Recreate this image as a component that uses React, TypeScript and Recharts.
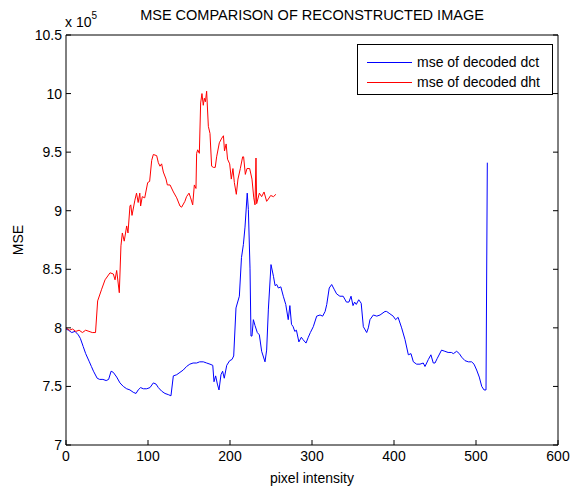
import React from 'react';
import { LineChart, Line, XAxis, YAxis, Label } from 'recharts';

const FONT = '"Liberation Sans", Arial, Helvetica, sans-serif';

const xTicks = [0, 100, 200, 300, 400, 500, 600];
const yTicks = [7, 7.5, 8, 8.5, 9, 9.5, 10, 10.5];

// mse of decoded dct (values in units of 10^5)
const dctPixel = [
  0, 3, 7, 11, 15, 17.5, 21, 24, 28.5, 31, 33.5, 38, 41, 45, 49, 52, 55, 57.7, 61.8, 65.8,
  69.9, 74, 78, 82, 85.4, 88, 91, 94.3, 98.4, 102.4, 106.5, 109.8, 112.6, 116.6, 120.7, 124.8, 128, 130.9, 135, 139,
  143, 147, 151, 155, 159.3, 163, 167.5, 171.5, 175.6, 179, 180.5, 182.5, 184.6, 186.6, 189, 191, 193, 196, 199.6, 202.4,
  204.5, 207.3, 211.4, 214, 216.3, 218.3, 221, 222.4, 224.4, 225.6, 226.8, 228.5, 230.5, 233.3, 235.8, 238.6, 242.7, 244.7, 246.8, 250,
  253, 255, 257, 259, 262, 265, 268, 271, 273, 275, 277, 279, 281, 284, 287, 289, 292.7, 295.5, 298, 301.6,
  305.7, 309.8, 313, 316, 318, 321, 324, 327, 330, 334, 338, 342, 345, 347.6, 350, 352, 354, 357, 360, 362.6,
  366.7, 368.7, 370.7, 374.8, 379, 383, 389, 391, 395, 399, 402, 405, 409.3, 413.4, 417.5, 420.7, 423.6, 427.6, 431.7, 435.7,
  437.8, 441.9, 445, 447.9, 450, 452.8, 458, 462, 466, 470, 472.4, 476.4, 479.7, 482.5, 486.6, 490.7, 494.7, 497.6, 500.8, 504,
  507, 509.8, 512.2, 513.8,
];
const dctMse = [
  7.99, 7.98, 7.96, 7.97, 7.94, 7.91, 7.84, 7.78, 7.71, 7.67, 7.63, 7.57, 7.56, 7.56, 7.55, 7.56, 7.63, 7.62, 7.58, 7.53,
  7.5, 7.48, 7.47, 7.45, 7.44, 7.47, 7.49, 7.48, 7.48, 7.49, 7.53, 7.52, 7.49, 7.46, 7.44, 7.43, 7.42, 7.59, 7.6, 7.62,
  7.64, 7.67, 7.69, 7.7, 7.7, 7.71, 7.71, 7.7, 7.69, 7.68, 7.54, 7.59, 7.52, 7.47, 7.6, 7.63, 7.57, 7.68, 7.72, 7.73,
  7.76, 8.17, 8.27, 8.6, 8.71, 8.86, 9.15, 9.01, 8.51, 7.93, 7.93, 8.07, 8.02, 7.96, 7.94, 7.8, 7.71, 7.81, 8.16, 8.54,
  8.44, 8.36, 8.37, 8.34, 8.35, 8.27, 8.2, 8.07, 8.19, 8.03, 8.01, 7.97, 7.98, 7.88, 7.92, 7.9, 7.87, 7.92, 7.96, 8.01,
  8.1, 8.11, 8.1, 8.14, 8.2, 8.34, 8.37, 8.33, 8.29, 8.27, 8.27, 8.22, 8.22, 8.27, 8.19, 8.22, 8.2, 8.24, 8.21, 8.01,
  7.96, 8.0, 8.07, 8.11, 8.1, 8.11, 8.14, 8.14, 8.12, 8.1, 8.07, 8.09, 8.0, 7.9, 7.77, 7.78, 7.71, 7.69, 7.69, 7.7,
  7.67, 7.73, 7.77, 7.7, 7.7, 7.74, 7.81, 7.8, 7.79, 7.79, 7.78, 7.8, 7.78, 7.75, 7.72, 7.71, 7.71, 7.69, 7.64, 7.58,
  7.5, 7.47, 7.47, 9.41,
];

// mse of decoded dht (values in units of 10^5)
const dhtPixel = [
  0, 4, 8, 12, 16, 20, 24, 28, 32, 36, 38.6, 43.5, 47.6, 53.7, 57.7, 59.8, 61.8, 65, 67, 68.7,
  71, 74, 75.6, 78, 79, 80.5, 84, 86, 88, 90, 91, 93, 96, 99.6, 102, 104.5, 106.5, 110.6, 112.6, 114.6,
  116.6, 118.7, 122, 123.6, 126.9, 131, 135, 139, 141, 145, 147, 150, 152, 154.5, 156.5, 158.5, 159.3, 160.6, 162.6, 164.2,
  165.8, 167.4, 168.7, 170, 171.5, 173.6, 175.6, 177.6, 179.7, 182, 183.7, 187, 190, 192, 193.3, 195.3, 197, 199.6, 201.6, 203.6,
  205.3, 207.7, 209.7, 212.6, 215.4, 216.6, 218.7, 220.7, 224, 226.8, 229, 230.5, 231.7, 232.5, 235.8, 238.6, 241.5, 244.7, 246.8, 249.6,
  253, 256,
];
const dhtMse = [
  8.0, 7.98, 7.99, 7.97, 7.98, 7.96, 7.98, 7.97, 7.96, 7.96, 8.23, 8.33, 8.41, 8.47, 8.46, 8.41, 8.49, 8.3, 8.7, 8.81,
  8.74, 8.87, 8.81, 9.04, 9.05, 8.96, 9.09, 9.15, 9.07, 9.15, 9.04, 9.12, 9.11, 9.24, 9.25, 9.43, 9.48, 9.47, 9.41, 9.38,
  9.4, 9.33, 9.27, 9.22, 9.22, 9.16, 9.11, 9.04, 9.03, 9.08, 9.12, 9.15, 9.11, 9.05, 9.22, 9.19, 9.49, 9.52, 9.49, 9.92,
  10.0, 9.9, 9.96, 9.93, 10.02, 9.72, 9.66, 9.38, 9.37, 9.37, 9.46, 9.58, 9.62, 9.64, 9.51, 9.57, 9.44, 9.4, 9.27, 9.36,
  9.24, 9.14, 9.27, 9.36, 9.46, 9.46, 9.31, 9.36, 9.36, 9.27, 9.11, 9.05, 9.45, 9.06, 9.15, 9.12, 9.16, 9.08, 9.1, 9.13,
  9.12, 9.14,
];

const dctData = dctPixel.map((x, i) => ({ x, mse: dctMse[i] }));
const dhtData = dhtPixel.map((x, i) => ({ x, mse: dhtMse[i] }));

const TICK_LEN = 5;

const BottomTick = ({ x, y, payload }: any) => (
  <g>
    <line x1={x} y1={y} x2={x} y2={y - TICK_LEN} stroke="#000" />
    <text x={x} y={y + 16} textAnchor="middle" fontSize={14} fontFamily={FONT} fill="#000">
      {payload.value}
    </text>
  </g>
);

const TopTick = ({ x, y }: any) => <line x1={x} y1={y} x2={x} y2={y + TICK_LEN} stroke="#000" />;

const LeftTick = ({ x, y, payload }: any) => (
  <g>
    <line x1={x} y1={y} x2={x + TICK_LEN} y2={y} stroke="#000" />
    <text x={x - 4} y={y + 5} textAnchor="end" fontSize={14} fontFamily={FONT} fill="#000">
      {payload.value}
    </text>
  </g>
);

const RightTick = ({ x, y }: any) => <line x1={x} y1={y} x2={x - TICK_LEN} y2={y} stroke="#000" />;

const TitleLabel = ({ viewBox }: any) => (
  <text x={viewBox.x + viewBox.width / 2} y={20} textAnchor="middle" fontSize={14.5} fontFamily={FONT} fill="#000">
    MSE COMPARISON OF RECONSTRUCTED IMAGE
  </text>
);

const XTitle = ({ viewBox }: any) => (
  <text x={viewBox.x + viewBox.width / 2} y={483} textAnchor="middle" fontSize={14} fontFamily={FONT} fill="#000">
    pixel intensity
  </text>
);

const YTitle = ({ viewBox }: any) => {
  const cy = viewBox.y + viewBox.height / 2;
  return (
    <text x={23} y={cy} transform={`rotate(-90 23 ${cy})`} textAnchor="middle" fontSize={14} fontFamily={FONT} fill="#000">
      MSE
    </text>
  );
};

const Exponent = () => (
  <text x={65} y={27} fontSize={14} fontFamily={FONT} fill="#000">
    x 10
    <tspan dy={-8} fontSize={10}>5</tspan>
  </text>
);

const legendItems = [
  { name: 'mse of decoded dct', color: '#0000ff' },
  { name: 'mse of decoded dht', color: '#ff0000' },
];

export default function App() {
  return (
    <div style={{ position: 'absolute', left: 0, top: 0, width: 574, height: 488, background: '#fff' }}>
      <LineChart width={574} height={488} margin={{ top: 0, right: 0, bottom: 0, left: 0 }}>
        <XAxis
          xAxisId="b"
          dataKey="x"
          type="number"
          domain={[0, 600]}
          ticks={xTicks}
          interval={0}
          allowDataOverflow
          height={43}
          tickSize={0}
          tickMargin={0}
          tickLine={false}
          axisLine={{ stroke: '#000' }}
          tick={<BottomTick />}
        >
          <Label content={<XTitle />} />
        </XAxis>
        <XAxis
          xAxisId="t"
          orientation="top"
          type="number"
          domain={[0, 600]}
          ticks={xTicks}
          interval={0}
          allowDataOverflow
          height={35}
          tickSize={0}
          tickMargin={0}
          tickLine={false}
          axisLine={{ stroke: '#000' }}
          tick={<TopTick />}
        >
          <Label content={<TitleLabel />} />
        </XAxis>
        <YAxis
          yAxisId="l"
          type="number"
          domain={[7, 10.5]}
          ticks={yTicks}
          interval={0}
          allowDataOverflow
          width={66}
          tickSize={0}
          tickMargin={0}
          tickLine={false}
          axisLine={{ stroke: '#000' }}
          tick={<LeftTick />}
        >
          <Label content={<YTitle />} />
          <Label content={<Exponent />} />
        </YAxis>
        <YAxis
          yAxisId="r"
          orientation="right"
          type="number"
          domain={[7, 10.5]}
          ticks={yTicks}
          interval={0}
          allowDataOverflow
          width={16}
          tickSize={0}
          tickMargin={0}
          tickLine={false}
          axisLine={{ stroke: '#000' }}
          tick={<RightTick />}
        />
        <Line
          xAxisId="b"
          yAxisId="l"
          data={dctData}
          dataKey="mse"
          type="linear"
          stroke="#0000ff"
          strokeWidth={1}
          dot={false}
          activeDot={false}
          isAnimationActive={false}
        />
        <Line
          xAxisId="b"
          yAxisId="l"
          data={dhtData}
          dataKey="mse"
          type="linear"
          stroke="#ff0000"
          strokeWidth={1}
          dot={false}
          activeDot={false}
          isAnimationActive={false}
        />
      </LineChart>
      <div
        style={{
          position: 'absolute',
          left: 357,
          top: 44,
          width: 194,
          height: 49,
          border: '1px solid #000',
          background: '#fff',
          fontFamily: FONT,
          fontSize: 14,
          boxSizing: 'content-box',
        }}
      >
        {legendItems.map((item, i) => (
          <div key={item.name} style={{ position: 'absolute', left: 9, top: 8 + i * 20, height: 18, display: 'flex', alignItems: 'center' }}>
            <span style={{ display: 'inline-block', width: 45, height: 0, borderTop: `1px solid ${item.color}`, marginRight: 5 }} />
            <span>{item.name}</span>
          </div>
        ))}
      </div>
    </div>
  );
}
